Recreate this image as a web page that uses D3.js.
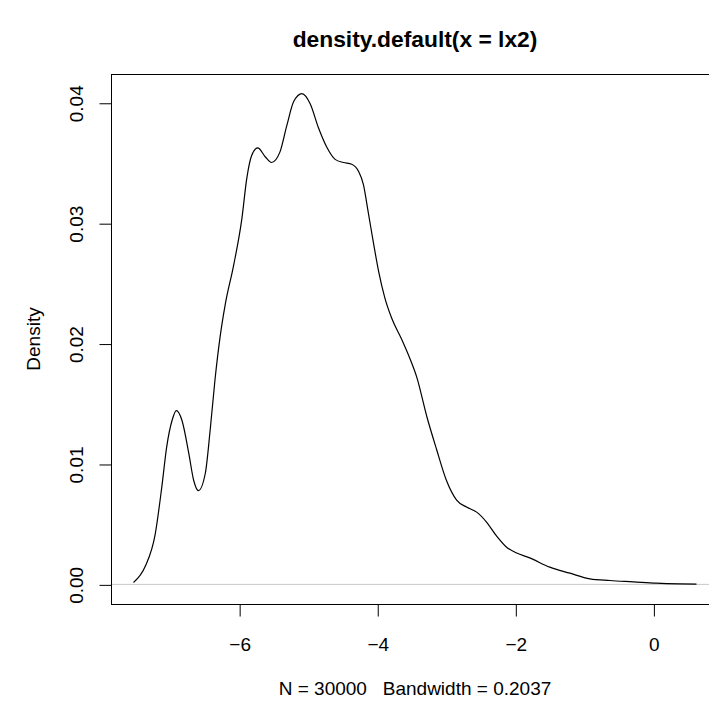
<!DOCTYPE html>
<html>
<head>
<meta charset="utf-8">
<script src="https://cdn.jsdelivr.net/npm/d3@7"></script>
<style>
  body { margin: 0; background: #fff; }
  svg { display: block; font-family: "Liberation Sans", Arial, Helvetica, sans-serif; }
</style>
</head>
<body>
<svg id="chart" width="709" height="704"></svg>
<script>
// density estimate
const densX = [-7.53, -7.36, -7.215, -7.12, -7.05, -6.97, -6.91, -6.83, -6.73, -6.66,
  -6.59, -6.49, -6.42, -6.35, -6.275, -6.2, -6.08, -5.96, -5.89, -5.82,
  -5.73, -5.62, -5.53, -5.41, -5.31, -5.21, -5.09, -4.97, -4.85, -4.73,
  -4.61, -4.49, -4.37, -4.27, -4.2, -4.13, -4.05, -3.98, -3.89, -3.79,
  -3.65, -3.53, -3.43, -3.28, -3.14, -3.0, -2.85, -2.7, -2.56, -2.42,
  -2.27, -2.13, -1.98, -1.8, -1.5, -1.21, -0.92, -0.63, -0.29, 0.04,
  0.38, 0.624];
const densY = [0.00015, 0.0015, 0.0042, 0.0081, 0.0114, 0.01365, 0.01443, 0.01365, 0.0109, 0.00867,
  0.00779, 0.00923, 0.0128, 0.017, 0.0206, 0.0233, 0.0265, 0.0304, 0.0337, 0.0356,
  0.03625, 0.0355, 0.03504, 0.0359, 0.0381, 0.0401, 0.04076, 0.0399, 0.0379, 0.0363,
  0.0353, 0.03504, 0.0349, 0.0343, 0.0332, 0.0309, 0.0282, 0.026, 0.0238, 0.0221,
  0.0204, 0.0188, 0.01725, 0.0139, 0.0112, 0.00867, 0.007, 0.0064, 0.006, 0.0052,
  0.004, 0.0031, 0.0026, 0.00222, 0.00143, 0.00093, 0.00046, 0.00032, 0.00021, 0.0001,
  0.00004, 0.00002];
const xTicks = [-6, -4, -2, 0];
const yTicks = [0, 0.01, 0.02, 0.03, 0.04];
const yTickLabels = ["0.00", "0.01", "0.02", "0.03", "0.04"];
const title = "density.default(x = lx2)";
const xLabel = "N = 30000   Bandwidth = 0.2037";
const yLabel = "Density";

const plot = { left: 111, right: 719, top: 74, bottom: 604 };
const fontsize = 19;

const svg = d3.select("#chart");
const points = densX.map((x, i) => ({ x: x, y: densY[i] }));

// R style 4% padding on both axes
const xr = d3.extent(densX), yr = [0, d3.max(densY)];
const xpad = (xr[1] - xr[0]) * 0.04, ypad = (yr[1] - yr[0]) * 0.04;
const x = d3.scaleLinear().domain([xr[0] - xpad, xr[1] + xpad]).range([plot.left, plot.right]);
const y = d3.scaleLinear().domain([yr[0] - ypad, yr[1] + ypad]).range([plot.bottom, plot.top]);

// zero line
svg.append("line")
    .attr("x1", plot.left).attr("x2", plot.right)
    .attr("y1", y(0)).attr("y2", y(0))
    .attr("stroke", "#c8c8c8")
    .attr("stroke-width", 1);

// density curve
svg.append("path")
    .datum(points)
    .attr("fill", "none")
    .attr("stroke", "black")
    .attr("stroke-width", 1.2)
    .attr("d", d3.line().x(d => x(d.x)).y(d => y(d.y)).curve(d3.curveMonotoneX));

// box
svg.append("rect")
    .attr("x", plot.left + 0.5).attr("y", plot.top + 0.5)
    .attr("width", plot.right - plot.left).attr("height", plot.bottom - plot.top)
    .attr("fill", "none")
    .attr("stroke", "black")
    .attr("stroke-width", 1);

// x axis
let gx = svg.append("g")
    .attr("transform", `translate(0.5, ${plot.bottom + 0.5})`)
    .call(d3.axisBottom(x).tickValues(xTicks).tickSize(12).tickSizeOuter(0)
        .tickFormat(d => d3.format("d")(d).replace("-", "\u2212")));
gx.select(".domain").remove();
gx.append("line")
    .attr("x1", x(xTicks[0])).attr("x2", x(xTicks[xTicks.length - 1]))
    .attr("stroke", "black");
gx.selectAll(".tick line").attr("stroke", "black");
gx.selectAll("text")
    .attr("y", 46).attr("dy", 0)
    .attr("fill", "black")
    .attr("font-size", fontsize)
    .attr("font-family", "Liberation Sans, Arial, sans-serif");

// y axis (labels rotated like R's las=0)
let gy = svg.append("g")
    .attr("transform", `translate(${plot.left + 0.5}, 0.5)`)
    .call(d3.axisLeft(y).tickValues(yTicks).tickSize(12).tickSizeOuter(0)
        .tickFormat((d, i) => yTickLabels[i]));
gy.select(".domain").remove();
gy.append("line")
    .attr("y1", y(yTicks[0])).attr("y2", y(yTicks[yTicks.length - 1]))
    .attr("stroke", "black");
gy.selectAll(".tick line").attr("stroke", "black");
gy.selectAll("text")
    .attr("transform", "rotate(-90)")
    .attr("x", 0).attr("y", -29).attr("dy", 0)
    .attr("text-anchor", "middle")
    .attr("fill", "black")
    .attr("font-size", fontsize)
    .attr("font-family", "Liberation Sans, Arial, sans-serif");

// titles
let cx = (plot.left + plot.right) / 2;
svg.append("text")
    .attr("x", cx).attr("y", 47)
    .attr("text-anchor", "middle")
    .attr("font-size", fontsize * 1.2)
    .attr("font-weight", "bold")
    .text(title);

svg.append("text")
    .attr("x", cx).attr("y", 695)
    .attr("text-anchor", "middle")
    .attr("font-size", fontsize)
    .attr("xml:space", "preserve")
    .style("white-space", "pre")
    .text(xLabel);

svg.append("text")
    .attr("transform", `translate(40, ${(plot.top + plot.bottom) / 2}) rotate(-90)`)
    .attr("text-anchor", "middle")
    .attr("font-size", fontsize)
    .text(yLabel);
</script>
</body>
</html>
